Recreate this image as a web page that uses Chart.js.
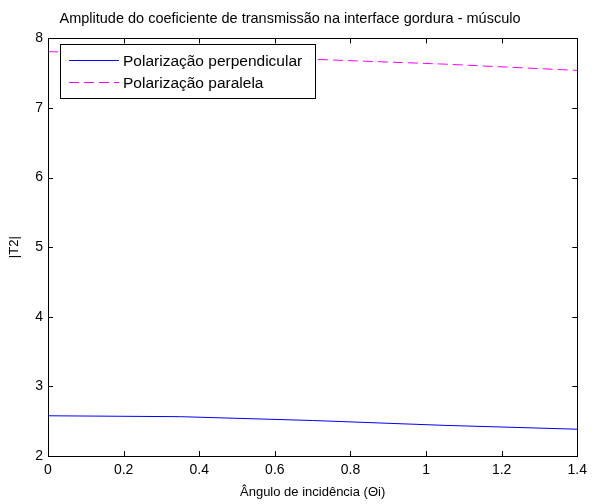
<!DOCTYPE html>
<html>
<head>
<meta charset="utf-8">
<script src="https://cdn.jsdelivr.net/npm/chart.js@4/dist/chart.umd.min.js"></script>
<style>
    html, body { margin: 0; padding: 0; background: #fff; }
    #caixa { width: 593px; height: 504px; }
</style>
</head>
<body>
<div id="caixa"><canvas id="graficoTransmissao" width="593" height="504"></canvas></div>
<script>
// Dados
const anguloIncidencia = [0, 0.35, 0.7, 1.05, 1.4];
const polPerpendicular = [2.578, 2.565, 2.51, 2.44, 2.385];
const polParalela = [7.81, 7.77, 7.70, 7.63, 7.54];

const ticksX = [0, 0.2, 0.4, 0.6, 0.8, 1, 1.2, 1.4];
const ticksY = [2, 3, 4, 5, 6, 7, 8];

const fonte = 'Liberation Sans, Arial, sans-serif';

// Monta pares {x, y} a partir dos vetores
function pares(xs, ys) {
    return xs.map((x, i) => ({ x: x, y: ys[i] }));
}

// Plugin: caixa dos eixos + marcas para dentro (estilo MATLAB) + legenda interna
const estiloMatlab = {
    id: 'estiloMatlab',
    afterDraw(chart) {
        const ctx = chart.ctx;
        const a = chart.chartArea;
        const sx = chart.scales.x;
        const sy = chart.scales.y;
        ctx.save();
        ctx.strokeStyle = '#000';
        ctx.lineWidth = 1;
        ctx.strokeRect(Math.round(a.left) + 0.5, Math.round(a.top) + 0.5,
            Math.round(a.right - a.left), Math.round(a.bottom - a.top));

        ctx.beginPath();
        ticksX.forEach(v => {
            const px = Math.round(sx.getPixelForValue(v)) + 0.5;
            ctx.moveTo(px, a.bottom); ctx.lineTo(px, a.bottom - 5);
            ctx.moveTo(px, a.top); ctx.lineTo(px, a.top + 5);
        });
        ticksY.forEach(v => {
            const py = Math.round(sy.getPixelForValue(v)) + 0.5;
            ctx.moveTo(a.left, py); ctx.lineTo(a.left + 5, py);
            ctx.moveTo(a.right, py); ctx.lineTo(a.right - 5, py);
        });
        ctx.stroke();

        // Legenda dentro do gráfico
        const lx = 60.5, ly = 44.5, lw = 255, lh = 54;
        ctx.fillStyle = '#fff';
        ctx.fillRect(lx, ly, lw, lh);
        ctx.strokeRect(lx, ly, lw, lh);
        chart.data.datasets.forEach((ds, i) => {
            const y = 60.5 + i * 22;
            ctx.beginPath();
            ctx.strokeStyle = ds.borderColor;
            ctx.setLineDash(ds.borderDash || []);
            ctx.moveTo(69, y);
            ctx.lineTo(119, y);
            ctx.stroke();
            ctx.setLineDash([]);
            ctx.fillStyle = '#000';
            ctx.font = '15.5px ' + fonte;
            ctx.textBaseline = 'middle';
            ctx.fillText(ds.label, 123, y + 1);
        });
        ctx.restore();
    }
};

const ctxT = document.getElementById('graficoTransmissao').getContext('2d');

const graficoTransmissao = new Chart(ctxT, {
    type: 'line',
    data: {
        datasets: [{
            label: 'Polarização perpendicular',
            data: pares(anguloIncidencia, polPerpendicular),
            borderColor: '#0000ff',
            borderWidth: 1,
            pointRadius: 0,
            tension: 0
        }, {
            label: 'Polarização paralela',
            data: pares(anguloIncidencia, polParalela),
            borderColor: '#ff00ff',
            borderWidth: 1,
            borderDash: [10, 5],
            pointRadius: 0,
            tension: 0
        }]
    },
    options: {
        responsive: false,
        animation: false,
        layout: { padding: { left: 0, right: 13, top: 0, bottom: 0 } },
        scales: {
            x: {
                type: 'linear',
                min: 0,
                max: 1.4,
                afterFit: s => { s.height = 48; },
                afterBuildTicks: s => { s.ticks = ticksX.map(v => ({ value: v })); },
                grid: { display: false, drawTicks: false },
                border: { display: false },
                ticks: {
                    color: '#000',
                    font: { family: fonte, size: 14 },
                    padding: 6,
                    maxRotation: 0,
                    callback: v => String(Number(v.toFixed(1)))
                },
                title: {
                    display: true,
                    text: 'Ângulo de incidência (Θi)',
                    color: '#000',
                    font: { family: fonte, size: 13 },
                    padding: { top: 0, bottom: 4 }
                }
            },
            y: {
                min: 2,
                max: 8,
                afterFit: s => { s.width = 48; },
                afterBuildTicks: s => { s.ticks = ticksY.map(v => ({ value: v })); },
                grid: { display: false, drawTicks: false },
                border: { display: false },
                ticks: {
                    color: '#000',
                    font: { family: fonte, size: 14 },
                    padding: 5
                },
                title: {
                    display: true,
                    text: '|T2|',
                    color: '#000',
                    font: { family: fonte, size: 13 },
                    padding: { top: 7, bottom: 4 }
                }
            }
        },
        plugins: {
            legend: { display: false },
            tooltip: { enabled: false },
            title: {
                display: true,
                text: 'Amplitude do coeficiente de transmissão na interface gordura - músculo',
                color: '#000',
                font: { family: fonte, size: 14.5, weight: 'normal' },
                padding: { top: 10, bottom: 11 }
            }
        }
    },
    plugins: [estiloMatlab]
});
</script>
</body>
</html>
